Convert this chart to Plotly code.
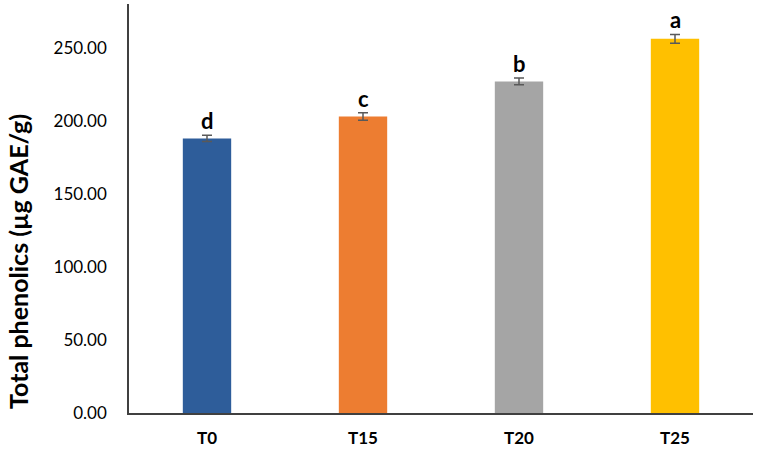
import plotly.graph_objects as go

categories = ["T0", "T15", "T20", "T25"]
values = [188.0, 203.0, 227.0, 256.2]
errors = [2.2, 2.5, 2.3, 3.0]
letters = ["d", "c", "b", "a"]
colors = ["#2E5D9A", "#ED7D31", "#A5A5A5", "#FFC000"]
tick_vals = [0, 50, 100, 150, 200, 250]
tick_text = ["0.00", "50.00", "100.00", "150.00", "200.00", "250.00"]

fig = go.Figure()
fig.add_trace(go.Bar(
    x=categories, y=values, marker=dict(color=colors, line=dict(width=0)),
    error_y=dict(type="data", array=errors, color="#595959", thickness=1.5, width=5),
    showlegend=False,
))

for c, v, e, l in zip(categories, values, errors, letters):
    fig.add_annotation(x=c, y=v + e, text=f"<b>{l}</b>", showarrow=False,
                       yanchor="bottom", yshift=-1,
                       font=dict(family="Lato", size=22, color="black"))

fig.add_annotation(xref="paper", yref="paper", x=-0.179, y=0.37,
                   text="<b>Total phenolics (µg GAE/g)</b>", textangle=-90,
                   showarrow=False, xanchor="center", yanchor="middle",
                   font=dict(family="Lato", size=25, color="black"))

fig.update_layout(
    width=758, height=451,
    margin=dict(l=129, r=5, t=4, b=38),
    plot_bgcolor="white", paper_bgcolor="white",
    bargap=0.69,
    font=dict(family="Lato", size=17, color="black"),
    xaxis=dict(showline=True, linecolor="#404040", linewidth=1.5, ticks="",
               tickfont=dict(family="Lato", size=17, color="black"),
               ticklabelstandoff=9, showgrid=False),
    yaxis=dict(range=[0, 280], tickvals=tick_vals, ticktext=tick_text,
               showline=True, linecolor="#404040", linewidth=1.5, ticks="",
               showgrid=False, zeroline=False, ticklabelstandoff=17,
               tickfont=dict(family="Lato", size=17, color="black")),
)
fig.update_xaxes(tickprefix="<b>", ticksuffix="</b>")
fig.update_yaxes(tickprefix="<b>", ticksuffix="</b>")

fig.write_html("out.html")
